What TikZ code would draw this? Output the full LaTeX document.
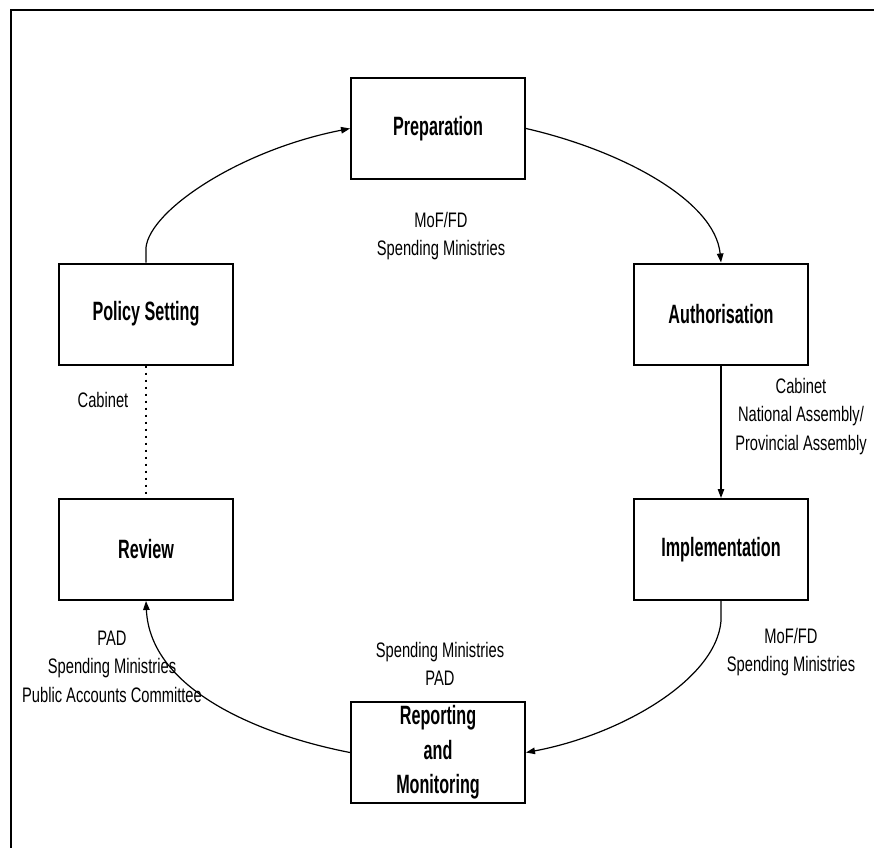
\documentclass[tikz,border=0pt]{standalone}
\usepackage{fontspec}
\setmainfont{Liberation Sans}[FakeStretch=0.70]
\newfontfamily\stagefont{Liberation Sans}[FakeStretch=0.61]
\usetikzlibrary{arrows.meta}
\newcommand\mystack[1]{\begin{tabular}[t]{@{}c@{}}#1\end{tabular}}
\begin{document}
\begin{tikzpicture}[x=1pt,y=-1pt,
  stage/.style={draw, line width=2pt, minimum width=174pt, minimum height=101pt,
    align=center, inner sep=0pt, font=\stagefont\fontsize{26.5}{34.5}\selectfont\bfseries},
  note/.style={inner sep=0pt, anchor=base, font=\fontsize{21}{28.5}\selectfont},
  flow/.style={line width=1.2pt, -{Triangle[length=9pt,width=6.5pt]}},
  frame/.style={line width=2pt}]
\useasboundingbox (0,0) rectangle (874,848);
\draw[frame] (874,10) coordinate (ftr) -- (11,10) coordinate (ftl) -- (11,848) coordinate (fbl);

\node[stage] (prep)   at (438,128.5) {Preparation};
\node[stage] (policy) at (146,314)   {Policy Setting};
\node[stage] (auth)   at (721,314)   {Authorisation};
\node[stage] (review) at (146,549.5) {Review};
\node[stage] (impl)   at (721,549.5) {Implementation};
\node[stage] (report) at (438,752.5) {Reporting\\and\\Monitoring};

\node[note] (prepnote)   at (441,227) {\mystack{MoF/FD\\Spending Ministries}};
\node[note] (authnote)   at (801,393) {\mystack{Cabinet\\National Assembly/\\Provincial Assembly}};
\node[note] (cabnote)    at (103,407) {Cabinet};
\node[note] (reviewnote) at (112,645) {\mystack{PAD\\Spending Ministries\\Public Accounts Committee}};
\node[note] (reportnote) at (440,657) {\mystack{Spending Ministries\\PAD}};
\node[note] (implnote)   at (791,643) {\mystack{MoF/FD\\Spending Ministries}};

\draw[flow] (policy.north) -- ++(0,-15) .. controls (150,210) and (240,150) .. (prep.west);
\draw[flow] (prep.east) .. controls (620,150) and (715,200) .. (auth.north);
\draw[flow] (auth) -- (impl);
\draw[flow] (impl.south) -- ++(0,20) .. controls (716,680) and (620,735) .. (report.east);
\draw[flow] (report.west) .. controls (260,735) and (150,690) .. (review.south);
\draw[line width=2pt, dash pattern=on 2.5pt off 4.5pt] (policy) -- (review);
\end{tikzpicture}
\end{document}
